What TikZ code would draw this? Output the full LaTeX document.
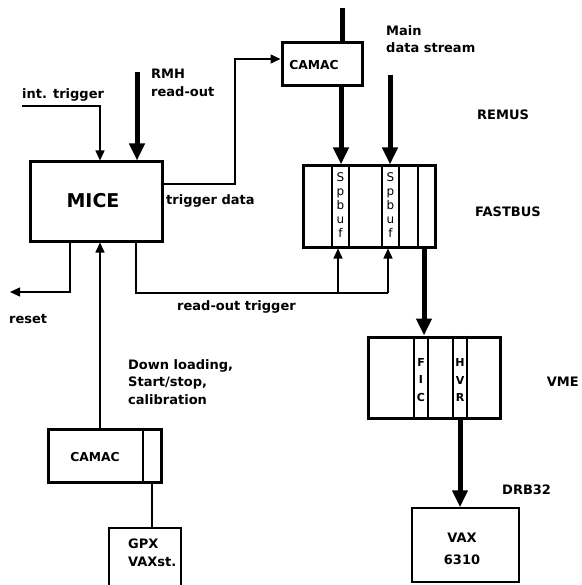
\documentclass[tikz,border=0pt]{standalone}
\usepackage{fontspec}
\setmainfont{DejaVu Sans}
\usetikzlibrary{arrows.meta}
\begin{document}
\begin{tikzpicture}[x=1pt,y=-1pt,
  lbl/.style={font=\bfseries\fontsize{13}{17.5}\selectfont, inner sep=0pt, align=left},
  thickbox/.style={draw, line width=3pt, inner sep=0pt},
  thinbox/.style={draw, line width=1.5pt, inner sep=0pt},
  sline/.style={line width=1.4pt},
  slot/.style={line width=1.3pt},
  tarr/.style={line width=1.4pt, -{Triangle[width=9pt,length=10pt]}},
  bigarr/.style={line width=5pt, -{Triangle[width=15pt,length=17pt]}},
  bigline/.style={line width=5pt},
  vlet/.style={font=\fontsize{12}{14}\selectfont, inner sep=0pt, align=center},
  vletb/.style={font=\bfseries\fontsize{11}{17.5}\selectfont, inner sep=0pt, align=center}]
\useasboundingbox (0,0) rectangle (581,585);
\clip (0,0) rectangle (581,585);
\fill[white] (0,0) rectangle (581,585);

% boxes
\node[thickbox, minimum width=132pt, minimum height=79pt] (mice) at (96,201.5) {};
\node[font=\bfseries\fontsize{19}{20}\selectfont] (micet) at (93,201) {MICE};
\node[thickbox, minimum width=80pt, minimum height=43pt] (camac1) at (322,64.5) {};
\node[lbl, font=\bfseries\fontsize{12.3}{14}\selectfont] (camac1t) at (314,65) {CAMAC};
\node[thickbox, minimum width=132pt, minimum height=81pt] (fastbus) at (369,206.5) {};
\node[thickbox, minimum width=132pt, minimum height=81pt] (vme) at (434,377.5) {};
\node[thinbox, minimum width=107pt, minimum height=74pt] (vax) at (465.5,545) {};
\node[thickbox, minimum width=113pt, minimum height=53pt] (camac2) at (104.5,455.5) {};
\node[lbl, font=\bfseries\fontsize{12.3}{14}\selectfont] (camac2t) at (95,457) {CAMAC};
\node[thinbox, minimum width=72pt, minimum height=80pt] (gpx) at (145,568) {};

% slots in FASTBUS
\foreach \x in {332,349,382,399,418} \draw[slot] (fastbus.north -| \x,0) -- (fastbus.south -| \x,0);
\node[vlet] (sp1) at (340.5,205) {S\\p\\b\\u\\f};
\node[vlet] (sp2) at (390.5,205) {S\\p\\b\\u\\f};
% slots in VME
\foreach \x in {414,428,453,467} \draw[slot] (vme.north -| \x,0) -- (vme.south -| \x,0);
\node[vletb] (fic) at (421,380) {F\\I\\C};
\node[vletb] (hvr) at (460,380) {H\\V\\R};
% slot in lower CAMAC
\draw[slot] (camac2.north -| 143,0) -- (camac2.south -| 143,0);

% coordinates
\coordinate (topin) at (342,8);
\coordinate (mainin) at (390,75);
\coordinate (rmhin) at (137,72);
\coordinate (intin) at (22,106);
\coordinate (intc) at (100,106);
\coordinate (td1) at (235,184);
\coordinate (td2) at (235,59);
\coordinate (rs1) at (70,292);
\coordinate (rsend) at (10,292);
\coordinate (rt1) at (136,293);
\coordinate (rt2) at (388,293);
\coordinate (rta) at (338,293);

% connectors
\draw[bigline] (topin) -- (topin |- camac1.north);
\draw[bigarr] (camac1.south -| 341,0) -- (fastbus.north -| 341,0);
\draw[bigarr] (mainin) -- (mainin |- fastbus.north);
\draw[bigarr] (rmhin) -- (rmhin |- mice.north);
\draw[tarr] (intin) -- (intc) -- (intc |- mice.north);
\draw[tarr] (mice.east |- td1) -- (td1) -- (td2) -- (camac1.west |- td2);
\draw[tarr] (mice.south -| rs1) -- (rs1) -- (rsend);
\draw[sline] (mice.south -| rt1) -- (rt1) -- (rt2);
\draw[tarr] (rta) -- (rta |- fastbus.south);
\draw[tarr] (rt2) -- (rt2 |- fastbus.south);
\draw[tarr] (camac2.north -| 100,0) -- (mice.south -| 100,0);
\draw[bigarr] (fastbus.south -| 424,0) -- (vme.north -| 424,0);
\draw[bigarr] (vme.south -| 460,0) -- (vax.north -| 460,0);
\draw[sline] (camac2.south -| 152,0) -- (gpx.north -| 152,0);

% labels
\node[lbl, anchor=west] (l1) at (22,95) {int. trigger};
\node[lbl, anchor=north west] (l2) at (151,69) {RMH\\read-out};
\node[lbl, anchor=west] (l3) at (166,201) {trigger data};
\node[lbl, anchor=north west] (l4) at (386,25) {Main\\data stream};
\node[lbl, anchor=west] (l5) at (477,115) {REMUS};
\node[lbl, anchor=west] (l6) at (475,212) {FASTBUS};
\node[lbl, anchor=east] (l7) at (579,382) {VME};
\node[lbl, anchor=west] (l8) at (502,490) {DRB32};
\node[lbl, anchor=west] (l9) at (9,319) {reset};
\node[lbl, anchor=west] (l10) at (177,307) {read-out trigger};
\node[lbl, anchor=north west] (l11) at (128,359) {Down loading,\\Start/stop,\\calibration};
\node[lbl, anchor=north west] (l12) at (128,539) {GPX\\VAXst.};
\node[lbl, align=center, font=\bfseries\fontsize{13}{22}\selectfont] (l13) at (462,549) {VAX\\6310};
\end{tikzpicture}
\end{document}
